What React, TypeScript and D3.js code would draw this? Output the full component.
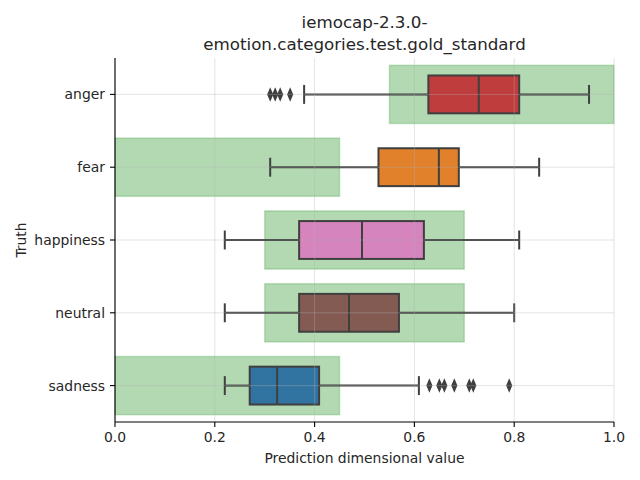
import React from "react";
import * as d3 from "d3";

const categories = ["anger", "fear", "happiness", "neutral", "sadness"];
const colors = ["#c03d3e", "#e1812c", "#d684bd", "#845b53", "#3274a1"];
// [whiskerLow, q1, median, q3, whiskerHigh]
const boxStats = [
  [0.379, 0.628, 0.729, 0.81, 0.95],
  [0.311, 0.528, 0.649, 0.689, 0.85],
  [0.22, 0.369, 0.495, 0.619, 0.81],
  [0.22, 0.369, 0.469, 0.569, 0.8],
  [0.22, 0.27, 0.325, 0.409, 0.609],
];
const outliers = [
  [0.311, 0.321, 0.331, 0.351],
  [],
  [],
  [],
  [0.63, 0.65, 0.66, 0.68, 0.71, 0.718, 0.79],
];
// gold standard ranges
const goldRanges = [
  [0.55, 1.0],
  [0.0, 0.45],
  [0.3, 0.7],
  [0.3, 0.7],
  [0.0, 0.45],
];
const xTicks = [0, 0.2, 0.4, 0.6, 0.8, 1.0];
const titleLines = ["iemocap-2.3.0-", "emotion.categories.test.gold_standard"];

export default function App() {
  const W = 640, H = 480;
  const left = 115, right = 614, top = 58, bottom = 422;
  const x = d3.scaleLinear().domain([0, 1]).range([left, right]);
  const y = d3.scaleBand().domain(categories).range([top, bottom]).padding(0);
  const bw = y.bandwidth();
  const font = "DejaVu Sans, sans-serif";
  const edge = "#3f3f3f";
  const txt = "#262626";
  const diamond = d3.symbol().type(d3.symbolDiamond).size(36)();
  return (
    <svg width={W} height={H} style={{ position: "absolute", left: 0, top: 0, background: "#fff" }} fontFamily={font}>
      {/* gold standard rects */}
      {categories.map((c, i) => {
        const cy = y(c)! + bw / 2;
        const h = bw * 0.8;
        return (
          <rect key={"g" + c} x={x(goldRanges[i][0])} y={cy - h / 2}
            width={x(goldRanges[i][1]) - x(goldRanges[i][0])} height={h}
            fill="rgba(0,128,0,0.3)" stroke="rgba(0,128,0,0.2)" strokeWidth={1.5} />
        );
      })}
      {/* boxes */}
      {categories.map((c, i) => {
        const cy = y(c)! + bw / 2;
        const h = bw * 0.52;
        const [lo, q1, med, q3, hi] = boxStats[i];
        const cap = h * 0.5;
        return (
          <g key={"b" + c} stroke={edge} strokeWidth={2}>
            <line x1={x(lo)} x2={x(q1)} y1={cy} y2={cy} />
            <line x1={x(q3)} x2={x(hi)} y1={cy} y2={cy} />
            <line x1={x(lo)} x2={x(lo)} y1={cy - cap / 2} y2={cy + cap / 2} />
            <line x1={x(hi)} x2={x(hi)} y1={cy - cap / 2} y2={cy + cap / 2} />
            <rect x={x(q1)} y={cy - h / 2} width={x(q3) - x(q1)} height={h} fill={colors[i]} />
            <line x1={x(med)} x2={x(med)} y1={cy - h / 2} y2={cy + h / 2} />
            {outliers[i].map((v, j) => (
              <path key={j} d={diamond!} transform={`translate(${x(v)},${cy}) scale(0.95,1.3)`} fill={edge} stroke="none" />
            ))}
          </g>
        );
      })}
      {/* grid on top */}
      <g stroke="#b0b0b0" strokeOpacity={0.45} strokeWidth={0.8}>
        {xTicks.map((t) => (
          <line key={"vx" + t} x1={x(t)} x2={x(t)} y1={top} y2={bottom} />
        ))}
        {categories.map((c) => (
          <line key={"hy" + c} x1={left} x2={right} y1={y(c)! + bw / 2} y2={y(c)! + bw / 2} />
        ))}
      </g>
      {/* spines */}
      <line x1={left} x2={left} y1={top} y2={bottom} stroke="#000" strokeWidth={1.1} />
      <line x1={left} x2={right} y1={bottom} y2={bottom} stroke="#000" strokeWidth={1.1} />
      {/* x ticks */}
      {xTicks.map((t) => (
        <g key={"xt" + t}>
          <line x1={x(t)} x2={x(t)} y1={bottom} y2={bottom + 5} stroke="#000" strokeWidth={1.1} />
          <text x={x(t)} y={bottom + 20} fontSize={13.9} textAnchor="middle" fill={txt}>{d3.format(".1f")(t)}</text>
        </g>
      ))}
      {/* y ticks */}
      {categories.map((c) => (
        <g key={"yt" + c}>
          <line x1={left - 5} x2={left} y1={y(c)! + bw / 2} y2={y(c)! + bw / 2} stroke="#000" strokeWidth={1.1} />
          <text x={left - 10} y={y(c)! + bw / 2 + 5} fontSize={13.9} textAnchor="end" fill={txt}>{c}</text>
        </g>
      ))}
      <text x={(left + right) / 2} y={463} fontSize={13.9} textAnchor="middle" fill={txt}>Prediction dimensional value</text>
      <text transform={`translate(26,${(top + bottom) / 2}) rotate(-90)`} fontSize={13.9} textAnchor="middle" fill={txt}>Truth</text>
      {titleLines.map((l, i) => (
        <text key={l} x={(left + right) / 2} y={28 + i * 22} fontSize={16.7} textAnchor="middle" fill={txt}>{l}</text>
      ))}
    </svg>
  );
}
